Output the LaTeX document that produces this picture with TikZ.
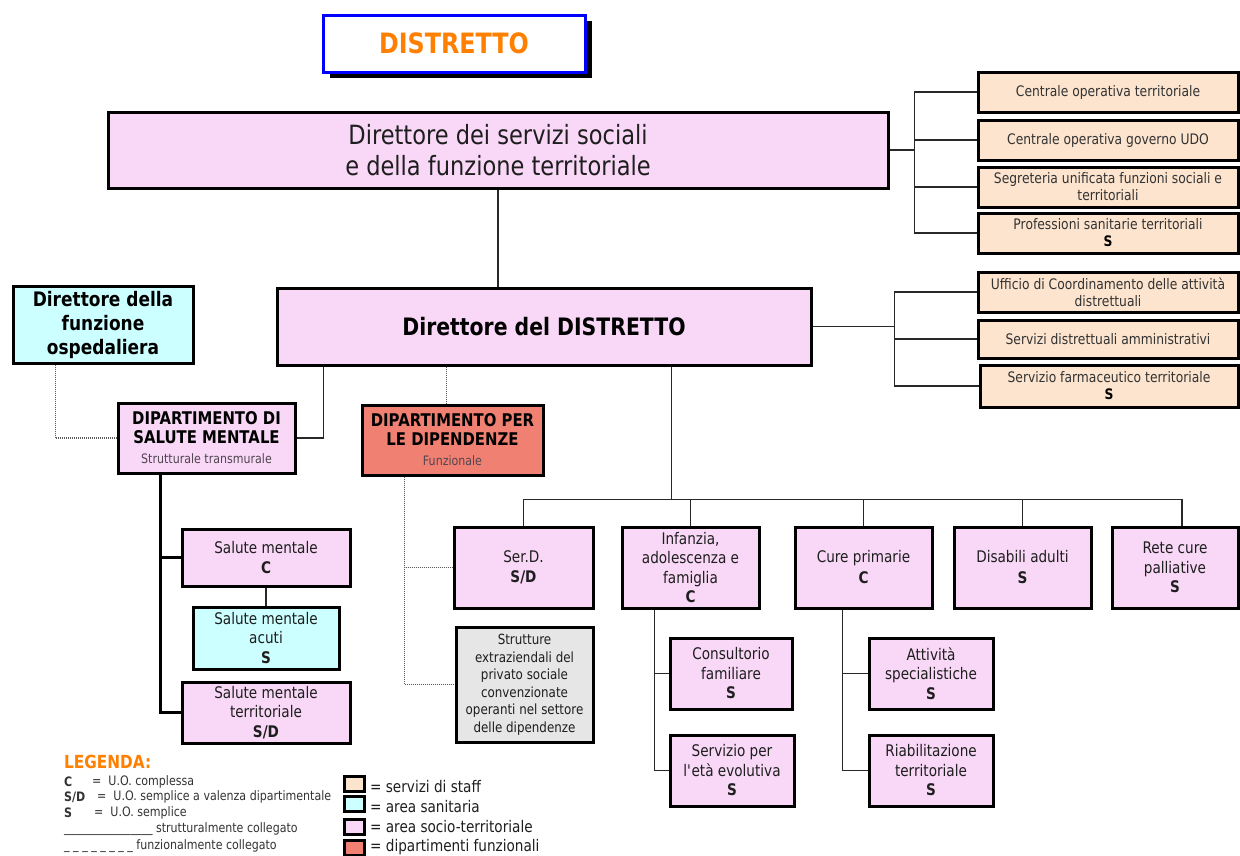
\documentclass[tikz,border=0pt]{standalone}
\usepackage{fontspec}
\setmainfont{DejaVu Sans}[FakeStretch=0.85]
\usetikzlibrary{calc,shadows}

\definecolor{pinkfill}{RGB}{248,216,246}
\definecolor{stafffill}{RGB}{252,228,206}
\definecolor{cyanfill}{RGB}{204,255,255}
\definecolor{salmonfill}{RGB}{240,128,114}
\definecolor{grayfill}{RGB}{230,230,230}
\definecolor{orangetxt}{RGB}{255,128,0}
\definecolor{titleblue}{RGB}{0,0,255}
\definecolor{txt}{RGB}{30,30,30}
\definecolor{subtxt}{RGB}{80,70,80}
\definecolor{wire}{RGB}{40,40,40}
\definecolor{dotgray}{RGB}{90,90,90}

\newcommand\fsz[2]{\fontsize{#1}{#2}\selectfont}

\begin{document}
\begin{tikzpicture}[x=1pt,y=-1pt,
  box/.style={draw=black, line width=3pt, inner sep=0pt, align=center, text=txt},
  pinkbox/.style={box, fill=pinkfill},
  staffbox/.style={box, fill=stafffill, minimum width=260, font=\fsz{14.5}{17}, text=black!80},
  cyanbox/.style={box, fill=cyanfill},
  unitbox/.style={pinkbox, font=\fsz{16}{19.5}},
  wire/.style={draw=wire, line width=1.6pt},
  thickwire/.style={draw=black, line width=3pt},
  dots/.style={draw=dotgray, line width=1.5pt, dash pattern=on 1pt off 1pt},
  legtxt/.style={anchor=west, inner sep=0pt, text=black!80, font=\fsz{13}{15}},
  keytxt/.style={anchor=west, inner sep=0pt, text=txt, font=\fsz{16}{18}},
  swatch/.style={draw=black, line width=3pt, minimum width=20, minimum height=15, inner sep=0pt}
]
\fill[white] (0,0) rectangle (1240,855);
\useasboundingbox (0,0) rectangle (1240,855);

% title
\node[draw=titleblue, line width=3pt, fill=white, minimum width=262, minimum height=57,
      drop shadow={shadow xshift=7pt, shadow yshift=-6pt, fill=black, opacity=1},
      text=orangetxt, font=\fsz{28}{32}\bfseries] (title) at (454,43.5) {DISTRETTO};

% directors
\node[pinkbox, minimum width=780, minimum height=76, font=\fsz{26.5}{31}] (top) at (498,150)
  {Direttore dei servizi sociali\\e della funzione territoriale};
\node[pinkbox, minimum width=534, minimum height=77, font=\fsz{24}{28}\bfseries, text=black] (dis) at (544,326.5)
  {Direttore del DISTRETTO};
\node[cyanbox, minimum width=180, minimum height=77, font=\fsz{20}{24}\bfseries, text=black] (osp) at (103,324.5)
  {Direttore della\\funzione\\ospedaliera};

% staff services
\node[staffbox, minimum height=40] (s1) at (1108,92) {Centrale operativa territoriale};
\node[staffbox, minimum height=40] (s2) at (1108,140) {Centrale operativa governo UDO};
\node[staffbox, minimum height=40] (s3) at (1108,187) {Segreteria unificata funzioni sociali e\\territoriali};
\node[staffbox, minimum height=40] (s4) at (1108,233) {Professioni sanitarie territoriali\\\textbf{\color{black}S}};
\node[staffbox, minimum height=40] (s5) at (1108,292) {Ufficio di Coordinamento delle attività\\distrettuali};
\node[staffbox, minimum height=38] (s6) at (1108,339) {Servizi distrettuali amministrativi};
\node[staffbox, minimum height=42, minimum width=258] (s7) at (1109,386) {Servizio farmaceutico territoriale\\\textbf{\color{black}S}};

% departments
\node[pinkbox, minimum width=177, minimum height=70, font=\fsz{17.5}{19}, text=black] (dsm) at (206.5,438)
  {\textbf{DIPARTIMENTO DI}\\\textbf{SALUTE MENTALE}\\[1pt]{\fsz{13}{15}\color{subtxt}Strutturale transmurale}};
\node[box, fill=salmonfill, minimum width=181, minimum height=70, font=\fsz{17.5}{19}, text=black] (dipdip) at (452.5,440)
  {\textbf{DIPARTIMENTO PER}\\\textbf{LE DIPENDENZE}\\[1pt]{\fsz{13}{15}\color{subtxt}Funzionale}};

% mental health units
\node[unitbox, minimum width=168, minimum height=57] (smc) at (266,557.5) {Salute mentale\\\textbf{C}};
\node[cyanbox, minimum width=146, minimum height=62, font=\fsz{16}{19.5}] (acuti) at (266,638) {Salute mentale\\acuti\\\textbf{S}};
\node[unitbox, minimum width=168, minimum height=61] (smt) at (266,712.5) {Salute mentale\\territoriale\\\textbf{S/D}};

% district units
\node[unitbox, minimum width=139, minimum height=81] (serd) at (523.5,567.5) {Ser.D.\\\textbf{S/D}};
\node[unitbox, minimum width=137, minimum height=81] (inf) at (690.5,567.5) {Infanzia,\\adolescenza e\\famiglia\\\textbf{C}};
\node[unitbox, minimum width=137, minimum height=81, font=\fsz{16}{21}] (cure) at (863.5,567.5) {Cure primarie\\\textbf{C}};
\node[unitbox, minimum width=137, minimum height=81, font=\fsz{16}{21}] (dabi) at (1022.5,567.5) {Disabili adulti\\\textbf{S}};
\node[unitbox, minimum width=126, minimum height=81] (rete) at (1175,567.5) {Rete cure\\palliative\\\textbf{S}};

\node[box, fill=grayfill, minimum width=137, minimum height=115, font=\fsz{14}{17.5}] (strut) at (524.5,684.5)
  {Strutture\\extraziendali del\\privato sociale\\convenzionate\\operanti nel settore\\delle dipendenze};

\node[unitbox, minimum width=122, minimum height=71] (cons) at (731,673.5) {Consultorio\\familiare\\\textbf{S}};
\node[unitbox, minimum width=124, minimum height=71] (serv) at (732,770.5) {Servizio per\\l\textquotesingle età evolutiva\\\textbf{S}};
\node[unitbox, minimum width=124, minimum height=71] (att) at (931,673.5) {Attività\\specialistiche\\\textbf{S}};
\node[unitbox, minimum width=124, minimum height=71] (riab) at (931,770.5) {Riabilitazione\\territoriale\\\textbf{S}};

% structural links
\draw[wire] (top.south) -- (top.south |- dis.north);
\draw[wire] (top.east) -- ++(25,0) coordinate (g1);
\foreach \s in {s1,s2,s3,s4} \draw[wire] (g1) |- (\s.west);
\draw[wire] (dis.east) -- ++(82,0) coordinate (g2);
\foreach \s in {s5,s6,s7} \draw[wire] (g2) |- (\s.west);
\draw[wire] ($(dis.south west)+(48,0)$) |- (dsm.east);
\draw[wire] ($(dis.south west)+(396,0)$) -- ++(0,133) coordinate (bus);
\foreach \n in {serd,inf,cure,dabi} \draw[wire] (bus) -| (\n.north);
\draw[wire] (bus) -| ($(rete.north)+(7,0)$);
\draw[thickwire] ($(dsm.south west)+(44,0)$) coordinate (ds) |- (smt.west);
\draw[thickwire] (ds) |- (smc.west);
\draw[wire] (smc.south) -- (acuti.north);
\draw[wire] ($(inf.south west)+(34,0)$) coordinate (i0) |- (serv.west);
\draw[wire] (i0) |- (cons.west);
\draw[wire] ($(cure.south west)+(49,0)$) coordinate (c0) |- (riab.west);
\draw[wire] (c0) |- (att.west);

% functional links
\draw[dots] ($(dis.south west)+(171,0)$) coordinate (dd0) -- (dd0 |- dipdip.north);
\draw[dots] ($(osp.south west)+(44,0)$) |- (dsm.west);
\draw[dots] ($(dipdip.south west)+(44,0)$) coordinate (dd1) |- (strut.west);
\draw[dots] (dd1) |- (serd.west);

% legend
\node[anchor=west, inner sep=0pt, text=orangetxt, font=\fsz{18}{20}\bfseries] (leg) at (64,762) {LEGENDA:};
\node[legtxt] (l1a) at (64,782) {\textbf{C}};
\node[legtxt] (l1b) at (92,782) {=\ \ U.O. complessa};
\node[legtxt] (l2a) at (64,797) {\textbf{S/D}};
\node[legtxt] (l2b) at (97,797) {=\ \ U.O. semplice a valenza dipartimentale};
\node[legtxt] (l3a) at (64,813) {\textbf{S}};
\node[legtxt] (l3b) at (94,813) {=\ \ U.O. semplice};
\node[legtxt] (l4) at (64,829) {\_\_\_\_\_\_\_\_\_\_\_\_\_\_\_\_ strutturalmente collegato};
\node[legtxt] (l5) at (64,846) {\_ \_ \_ \_ \_ \_ \_ \_ funzionalmente collegato};

\node[swatch, fill=stafffill] (k1) at (354,783.5) {};
\node[swatch, fill=cyanfill] (k2) at (354,804) {};
\node[swatch, fill=pinkfill] (k3) at (354,826.5) {};
\node[swatch, fill=salmonfill] (k4) at (354,847.5) {};
\node[keytxt] (t1) at (370,787) {= servizi di staff};
\node[keytxt] (t2) at (370,807) {= area sanitaria};
\node[keytxt] (t3) at (370,827) {= area socio-territoriale};
\node[keytxt] (t4) at (370,847) {= dipartimenti funzionali};
\end{tikzpicture}
\end{document}
